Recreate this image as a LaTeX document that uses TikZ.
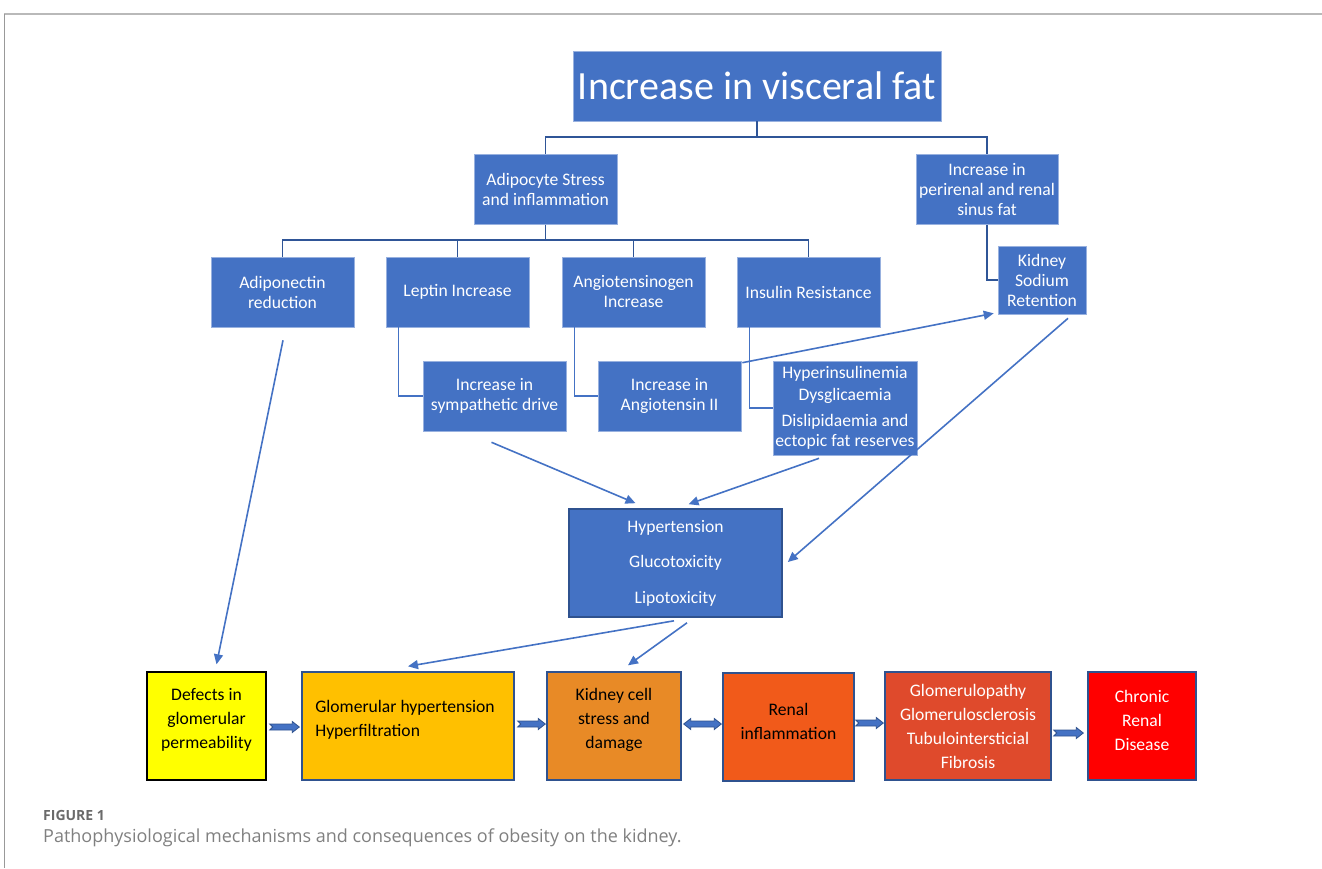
\documentclass[tikz,border=0pt]{standalone}
\usepackage{fontspec}
\setmainfont{Carlito}
\newfontfamily\capfont{Open Sans}
\usetikzlibrary{calc,arrows.meta}

\definecolor{boxblue}{HTML}{4472C4}
\definecolor{boxline}{HTML}{2F528F}
\definecolor{treeblue}{HTML}{2F5597}
\definecolor{ylw}{HTML}{FFFF00}
\definecolor{amber}{HTML}{FFC000}
\definecolor{kcellorange}{HTML}{E88A26}
\definecolor{renalorange}{HTML}{F15A1A}
\definecolor{glomred}{HTML}{DF4A2C}
\definecolor{crdred}{HTML}{FF0000}
\definecolor{capgray}{HTML}{6A6A6A}

%fat block arrow, from #1 to #2 (same height)
\newcommand{\fatarrow}[2]{%
  \draw[fatarr] let \p1=(#1), \p2=(#2) in
    (\x1,\y1+3) -- (\x2-7,\y1+3) -- (\x2-7,\y1+5.5) -- (\x2,\y1)
    -- (\x2-7,\y1-5.5) -- (\x2-7,\y1-3) -- (\x1,\y1-3) -- (\x1+3,\y1) -- cycle;}
%fat block arrow with two heads
\newcommand{\fatdarrow}[2]{%
  \draw[fatarr] let \p1=(#1), \p2=(#2) in
    (\x1,\y1) -- (\x1+7,\y1+5.5) -- (\x1+7,\y1+3) -- (\x2-7,\y1+3) -- (\x2-7,\y1+5.5) -- (\x2,\y1)
    -- (\x2-7,\y1-5.5) -- (\x2-7,\y1-3) -- (\x1+7,\y1-3) -- (\x1+7,\y1-5.5) -- cycle;}

\begin{document}
\begin{tikzpicture}[x=1pt,y=-1pt,
    bluebox/.style={fill=boxblue, draw=boxblue!55!white, line width=0.6, text=white, align=center,
      inner sep=0, minimum width=143, minimum height=70, font=\fontsize{17.6}{20}\selectfont},
    bottombox/.style={draw=boxline, line width=1.4, inner sep=0, minimum height=108, align=center,
      font=\fontsize{17.6}{24}\selectfont},
    btext/.style={align=center, inner sep=0, yshift=6, font=\fontsize{17.6}{24}\selectfont},
    treeline/.style={draw=treeblue, line width=1.6},
    elbow/.style={draw=boxblue, line width=1.5},
    thinarrow/.style={draw=boxblue, line width=1.6, -{Triangle[length=10pt,width=9pt]}},
    fatarr/.style={fill=boxblue, draw=boxline, line width=0.8, line join=miter}]
  \useasboundingbox (0,0) rectangle (1322,868);
  %FRAME
  \draw[gray!55, line width=1.6] (4,14) -- (1322,14);
  \draw[gray!80, line width=0.8] (4,14) -- (4,868);

  %TOP LEVEL
  \node[bluebox, minimum width=368, font=\fontsize{40}{44}\selectfont] (fat) at (757,86) {Increase in visceral fat};
  \node[bluebox] (adipo) at (545.5,189.5) {Adipocyte Stress\\and inflammation};
  \node[bluebox, minimum width=142] (peri) at (987,189.5) {Increase in\\perirenal and renal\\sinus fat};
  \draw[treeline] (fat.south) -- (757,137) -| (adipo.north);
  \draw[treeline] (757,137) -| (peri.north);

  %ADIPOKINES
  \node[bluebox] (adipon) at (282.5,292) {Adiponectin\\reduction};
  \node[bluebox] (leptin) at (457.5,292) {Leptin Increase};
  \node[bluebox] (angio) at (633.5,292) {Angiotensinogen\\Increase};
  \node[bluebox] (insulin) at (808.5,292) {Insulin Resistance};
  \foreach \n in {adipon,leptin,angio,insulin}
    \draw[treeline] (adipo.south) -- ++(0,15) -| (\n.north);
  \node[bluebox, minimum width=88, minimum height=68] (kidney) at (1042,280) {Kidney\\Sodium\\Retention};
  \draw[treeline] (peri.south) |- (kidney.west);

  %SECOND LEVEL
  \node[bluebox] (symp) at (494.5,396) {Increase in\\sympathetic drive};
  \node[bluebox] (ang2) at (669.5,396) {Increase in\\Angiotensin II};
  \node[bluebox, minimum width=144, minimum height=94] (hyper) at (845,408)
    {Hyperinsulinemia\\[2pt]Dysglicaemia\\[6pt]Dislipidaemia and\\ectopic fat reserves};
  \draw[elbow] ($(leptin.south west)+(13,0)$) |- (symp.west);
  \draw[elbow] ($(angio.south west)+(13,0)$) |- (ang2.west);
  \draw[elbow] ($(insulin.south west)+(13,0)$) |- (hyper.west);
  \draw[thinarrow] ($(ang2.north east)+(1,2)$) -- ($(kidney.south west)+(-4,-1)$);

  %CENTRAL
  \node[bluebox, draw=boxline, line width=1.6, minimum width=213, minimum height=108] (central) at (675.5,563)
    {Hypertension\\[15.5pt]Glucotoxicity\\[15.5pt]Lipotoxicity};
  \draw[thinarrow] ($(symp.south)+(-3,11)$) -- ($(central.north)+(-40,-5)$);
  \draw[thinarrow] ($(hyper.south)+(-26,3)$) -- ($(central.north)+(13,-4)$);
  \draw[thinarrow] ($(kidney.south)+(26,4)$) -- ($(central.east)+(5,-1)$);

  %BOTTOM ROW
  \node[bottombox, fill=ylw, draw=black, minimum width=119,
    label={[btext]center:{Defects in\\glomerular\\permeability}}] (defects) at (206.5,726) {};
  \node[bottombox, fill=amber, minimum width=212,
    label={[btext, align=left, xshift=-3]center:{Glomerular hypertension\\Hyperfiltration}}] (glom) at (408,726) {};
  \node[bottombox, fill=kcellorange, minimum width=134,
    label={[btext]center:{Kidney cell\\stress and\\damage}}] (kcell) at (614,726) {};
  \node[bottombox, fill=renalorange, minimum width=131,
    label={[btext]center:{Renal\\inflammation}}] (renal) at (788.5,727) {};
  \node[bottombox, fill=glomred, minimum width=166, text=white] (glomp) at (968,726)
    {Glomerulopathy\\Glomerulosclerosis\\Tubulointersticial\\Fibrosis};
  \node[bottombox, fill=crdred, minimum width=108,
    label={[btext, text=white]center:{Chronic\\Renal\\Disease}}] (crd) at (1142,726) {};

  \draw[thinarrow] ($(adipon.south)+(0.5,13)$) -- ($(defects.north)+(10,-7)$);
  \draw[thinarrow] ($(central.south)+(-1.5,3)$) -- ($(glom.north)+(0,-5)$);
  \draw[thinarrow] ($(central.south)+(11.5,5)$) -- ($(kcell.north)+(14,-6)$);

  \fatarrow{$(defects.east)+(3,1)$}{$(glom.west)+(-2,1)$}
  \fatarrow{$(glom.east)+(3,-2)$}{$(kcell.west)+(-1,-2)$}
  \fatdarrow{$(kcell.east)+(2,-2)$}{$(renal.west)+(-1,-3)$}
  \fatarrow{$(renal.east)+(1,-4)$}{$(glomp.west)+(-1,-3)$}
  \fatarrow{$(glomp.east)+(2,7)$}{$(crd.west)+(-4,7)$}

  %CAPTION
  \node[anchor=west, inner sep=0, text=capgray, font=\capfont\bfseries\fontsize{14}{16}\selectfont] (figlabel) at (43,815) {FIGURE 1};
  \node[anchor=west, inner sep=0, text=capgray!85, font=\capfont\fontsize{18}{21}\selectfont] (caption) at (43,838)
    {Pathophysiological mechanisms and consequences of obesity on the kidney.};
\end{tikzpicture}
\end{document}
